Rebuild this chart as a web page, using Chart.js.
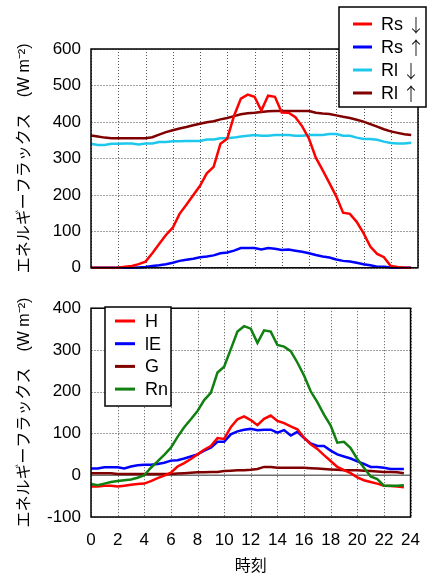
<!DOCTYPE html>
<html>
<head>
<meta charset="utf-8">
<script src="https://cdn.jsdelivr.net/npm/chart.js@4"></script>
<style>
  html, body { margin: 0; padding: 0; background: #fff; }
  #wrap { position: relative; width: 433px; height: 576px; }
  .box { position: absolute; left: 0; width: 433px; height: 288px; }
</style>
</head>
<body>
<div id="wrap">
  <div class="box" style="top:0"><canvas id="radChart"></canvas></div>
  <div class="box" style="top:288px"><canvas id="heatChart"></canvas></div>
</div>
<script>
// 30 分値
const hours = [0, 0.5, 1, 1.5, 2, 2.5, 3, 3.5, 4, 4.5, 5, 5.5, 6, 6.5, 7, 7.5,
  8, 8.5, 9, 9.5, 10, 10.5, 11, 11.5, 12, 12.5, 13, 13.5, 14, 14.5, 15, 15.5,
  16, 16.5, 17, 17.5, 18, 18.5, 19, 19.5, 20, 20.5, 21, 21.5, 22, 22.5, 23, 23.5];

const rsDown = [0, 0, 0, 0, 0, 3, 5, 10, 17, 40, 65, 90, 110, 148, 173, 199,
  225, 259, 277, 340, 354, 417, 464, 475, 469, 431, 472, 469, 426, 425, 413, 388,
  354, 302, 268, 232, 196, 151, 148, 126, 95, 58, 38, 29, 5, 2, 0, 0];
const rsUp = [0, 0, 0, 0, 0, 0, 0, 1, 2, 5, 7, 10, 14, 19, 22, 25,
  29, 31, 34, 40, 42, 47, 54, 54, 54, 50, 54, 52, 49, 50, 47, 44,
  40, 35, 31, 28, 23, 19, 17, 14, 10, 7, 3, 3, 1, 0, 0, 0];
const rlDown = [340, 337, 337, 340, 340, 341, 341, 338, 341, 341, 345, 345, 347, 347, 348, 348,
  348, 352, 352, 355, 355, 357, 360, 362, 364, 362, 362, 364, 364, 364, 362, 362,
  364, 364, 364, 367, 367, 362, 362, 357, 353, 353, 351, 346, 342, 341, 341, 343];
const rlUp = [363, 360, 357, 355, 355, 355, 355, 355, 355, 358, 365, 372, 377, 382, 386, 391,
  395, 399, 402, 407, 411, 416, 421, 424, 425, 427, 429, 430, 430, 430, 430, 430,
  430, 425, 423, 422, 418, 414, 411, 406, 401, 394, 387, 380, 374, 370, 366, 364];

const sensH = [-27, -27, -25, -25, -27, -25, -23, -21, -20, -14, -7, -1, 6, 21, 29, 39,
  50, 61, 70, 89, 87, 115, 134, 141, 132, 120, 135, 143, 130, 125, 117, 110,
  90, 74, 63, 48, 34, 20, 12, 5, -5, -12, -16, -20, -25, -26, -27, -29];
const latentLE = [16, 16, 19, 19, 19, 16, 21, 24, 25, 25, 27, 30, 35, 36, 40, 45,
  50, 59, 66, 80, 80, 98, 105, 109, 111, 108, 109, 109, 102, 108, 95, 104,
  89, 76, 70, 70, 59, 50, 45, 40, 33, 27, 20, 20, 18, 15, 15, 15];
const groundG = [5, 5, 5, 5, 3, 3, 3, 3, 3, 3, 3, 3, 3, 4, 5, 6,
  7, 7, 8, 8, 10, 11, 12, 12, 13, 15, 20, 20, 18, 18, 18, 18,
  18, 17, 16, 15, 14, 13, 12, 12, 12, 11, 10, 9, 8, 8, 7, 5];
const netRn = [-21, -24, -20, -16, -14, -12, -10, -6, 0, 18, 33, 49, 66, 92, 115, 134,
  154, 180, 197, 246, 260, 302, 344, 357, 351, 317, 347, 344, 312, 308, 297, 270,
  239, 201, 175, 145, 119, 78, 80, 65, 39, 18, -3, -9, -25, -25, -25, -24];

const xTicks = [0, 24, 2];
const radRange = [0, 600, 100];
const heatRange = [-100, 400, 100];

const Y_TITLE = 'エネルギーフラックス　(W m⁻²)';
const LATIN = "'Liberation Sans', Arial, sans-serif";
const CJK = "'Noto Sans CJK JP', sans-serif";
const JP = "'Liberation Sans', 'Noto Sans CJK JP', sans-serif";

Chart.defaults.font.family = LATIN;
Chart.defaults.color = '#000';

const toPoints = (vals) => hours.map((h, i) => ({ x: h, y: vals[i] }));

const line = (label, vals, color, order = 0) => ({
  label,
  data: toPoints(vals),
  borderColor: color,
  backgroundColor: color,
  borderWidth: 2.5,
  pointRadius: 0,
  tension: 0,
  clip: false,
  order
});

// 点線グリッドとゼロ線（系列の下）
const gridPlugin = {
  id: 'dotGrid',
  beforeDatasetsDraw(chart, args, opts) {
    const { ctx, chartArea: a, scales } = chart;
    ctx.save();
    ctx.lineWidth = 1;

    ctx.strokeStyle = '#a0a0a0';
    ctx.setLineDash([2, 1]);
    scales.y.ticks.forEach((t) => {
      const y = Math.round(scales.y.getPixelForValue(t.value)) + 0.5;
      ctx.beginPath();
      ctx.moveTo(a.left, y);
      ctx.lineTo(a.right, y);
      ctx.stroke();
    });

    ctx.strokeStyle = '#555';
    ctx.setLineDash([1, 2]);
    scales.x.ticks.forEach((t) => {
      const x = Math.round(scales.x.getPixelForValue(t.value)) + 0.5;
      ctx.beginPath();
      ctx.moveTo(x, a.top);
      ctx.lineTo(x, a.bottom);
      ctx.stroke();
    });

    if (opts.zeroLine) {
      const y = scales.y.getPixelForValue(0);
      ctx.setLineDash([]);
      ctx.strokeStyle = '#707070';
      ctx.lineWidth = 1.5;
      ctx.beginPath();
      ctx.moveTo(a.left, y);
      ctx.lineTo(a.right, y);
      ctx.stroke();
    }
    ctx.restore();
  }
};

const framePlugin = {
  id: 'frame',
  afterDatasetsDraw(chart) {
    const { ctx, chartArea: a } = chart;
    ctx.save();
    ctx.strokeStyle = '#000';
    ctx.lineWidth = 1.5;
    ctx.strokeRect(a.left, a.top, a.right - a.left, a.bottom - a.top);
    ctx.restore();
  }
};

// 枠付き凡例（矢印だけ和文フォント）
const boxLegend = {
  id: 'boxLegend',
  afterDraw(chart, args, opts) {
    const { ctx } = chart;
    ctx.save();
    ctx.fillStyle = '#fff';
    ctx.fillRect(opts.x, opts.y, opts.w, opts.h);
    ctx.strokeStyle = '#000';
    ctx.lineWidth = 1.5;
    ctx.strokeRect(opts.x, opts.y, opts.w, opts.h);
    ctx.textBaseline = 'middle';
    chart.data.datasets.forEach((ds, i) => {
      const y = opts.y + opts.first + i * opts.step;
      ctx.strokeStyle = ds.borderColor;
      ctx.lineWidth = 3;
      ctx.beginPath();
      ctx.moveTo(opts.x + opts.lineFrom, y);
      ctx.lineTo(opts.x + opts.lineTo, y);
      ctx.stroke();

      const [name, arrow] = ds.label.split(' ');
      let tx = opts.x + opts.textAt;
      ctx.fillStyle = '#000';
      ctx.font = '18px ' + LATIN;
      ctx.fillText(name, tx, y + 1);
      if (arrow) {
        tx += ctx.measureText(name + ' ').width;
        ctx.font = '300 18px ' + CJK;
        ctx.fillText(arrow, tx - 1, y + 1);
      }
    });
    ctx.restore();
  }
};

const makeOptions = (range, bottomAxis, pad, legend, zeroLine) => ({
  responsive: true,
  maintainAspectRatio: false,
  animation: false,
  layout: { padding: pad },
  plugins: {
    legend: { display: false },
    tooltip: { enabled: false },
    dotGrid: { zeroLine },
    boxLegend: legend
  },
  scales: {
    x: {
      type: 'linear',
      min: xTicks[0],
      max: xTicks[1],
      afterFit: (s) => { s.height = bottomAxis ? 59 : 17; },
      ticks: {
        display: bottomAxis,
        stepSize: xTicks[2],
        padding: 13,
        font: { size: 17 }
      },
      grid: { display: false, drawTicks: false },
      border: { display: false },
      title: {
        display: bottomAxis,
        text: '時刻',
        font: { size: 16, family: CJK },
        padding: { top: 0, bottom: 1 }
      }
    },
    y: {
      min: range[0],
      max: range[1],
      afterFit: (s) => { s.width = 91; },
      ticks: { stepSize: range[2], padding: 10, font: { size: 17 } },
      grid: { display: false, drawTicks: false },
      border: { display: false },
      title: {
        display: true,
        text: Y_TITLE,
        font: { size: 16, family: JP },
        padding: { top: 15, bottom: 0 }
      }
    }
  }
});

new Chart(document.getElementById('radChart'), {
  type: 'line',
  data: {
    datasets: [
      line('Rs ↓', rsDown, '#ff0000'),
      line('Rs ↑', rsUp, '#0000ff'),
      line('Rl ↓', rlDown, '#1ec8ec'),
      line('Rl ↑', rlUp, '#800000')
    ]
  },
  options: makeOptions(radRange, false, { top: 49, right: 15, bottom: 0, left: 0 },
    { x: 339, y: 7, w: 87, h: 100, first: 17, step: 23, lineFrom: 14, lineTo: 33, textAt: 42 },
    false),
  plugins: [gridPlugin, framePlugin, boxLegend]
});

new Chart(document.getElementById('heatChart'), {
  type: 'line',
  data: {
    datasets: [
      line('H', sensH, '#ff0000', 1),
      line('lE', latentLE, '#0000ff', 1),
      line('G', groundG, '#800000', 1),
      line('Rn', netRn, '#108010', 0)
    ]
  },
  options: makeOptions(heatRange, true, { top: 7, right: 15, bottom: 0, left: 0 },
    { x: 105, y: 19, w: 66, h: 99, first: 14, step: 22.7, lineFrom: 10, lineTo: 30, textAt: 40 },
    true),
  plugins: [gridPlugin, framePlugin, boxLegend]
});
</script>
</body>
</html>
